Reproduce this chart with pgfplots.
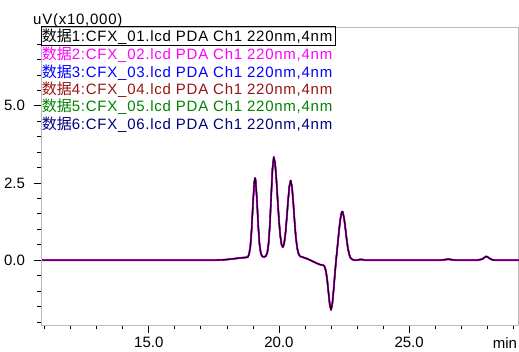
\documentclass[border=0pt]{standalone}
\usepackage{fontspec}
\setmainfont{Liberation Sans}
\newfontfamily\cjk{Noto Sans CJK SC}
\newfontfamily\lgfont[LetterSpace=5]{Liberation Sans}
\usepackage{pgfplots}
\pgfplotsset{compat=1.18}
\usepackage{pgfplotstable}
\definecolor{axgray}{RGB}{185,185,185}
\definecolor{s2}{RGB}{255,0,255}
\definecolor{s3}{RGB}{0,0,255}
\definecolor{s4}{RGB}{150,20,20}
\definecolor{s5}{RGB}{0,130,0}
\definecolor{s6}{RGB}{0,0,128}
\pgfplotstableread{
x y
10.9 0
12 0
14 0
16 0
17 0
17.5 0.0
17.8 0.01
18.0 0.02
18.2 0.04
18.4 0.06
18.6 0.08
18.75 0.09
18.80 0.10
18.85 0.19
18.90 0.44
18.95 1.01
19.00 1.82
19.05 2.52
19.08 2.66
19.10 2.60
19.15 1.99
19.20 1.15
19.25 0.53
19.30 0.23
19.35 0.13
19.40 0.105
19.45 0.11
19.50 0.14
19.55 0.24
19.60 0.54
19.65 1.15
19.70 2.07
19.75 2.96
19.80 3.34
19.85 3.14
19.90 2.61
19.95 1.93
20.00 1.28
20.05 0.78
20.10 0.50
20.15 0.42
20.20 0.55
20.25 0.88
20.30 1.38
20.35 1.94
20.40 2.40
20.45 2.58
20.50 2.37
20.55 1.85
20.60 1.24
20.65 0.72
20.70 0.385
20.75 0.21
20.80 0.135
20.85 0.11
20.90 0.10
21.00 0.07
21.10 0.04
21.20 0.0
21.30 -0.04
21.40 -0.08
21.50 -0.12
21.60 -0.15
21.70 -0.16
21.75 -0.21
21.80 -0.34
21.85 -0.62
21.90 -1.04
21.95 -1.44
22.00 -1.61
22.05 -1.40
22.10 -0.94
22.15 -0.42
22.20 0.06
22.25 0.48
22.30 0.91
22.35 1.29
22.40 1.53
22.43 1.575
22.45 1.56
22.50 1.36
22.55 1.03
22.60 0.67
22.65 0.37
22.70 0.18
22.75 0.07
22.80 0.03
22.90 0.0
23.0 0.0
23.1 0.02
23.2 0.02
23.3 0.0
24 0
25 0
26.2 0
26.4 0.02
26.5 0.03
26.6 0.02
26.8 0
27.6 0
27.8 0.03
27.9 0.09
27.95 0.12
28.0 0.11
28.1 0.05
28.2 0.01
28.3 0
29.2 0
}\trace
\newcommand\shuju{{\cjk 数据}}
\begin{document}
\begin{tikzpicture}
\path[use as bounding box] (-41.7pt,-27pt) rectangle (477.3pt,325pt);
\begin{axis}[
  at={(0,0)}, anchor=south west, scale only axis,
  width=476.8pt, height=297.3pt,
  xmin=10.885, xmax=29.2, ymin=-2.1, ymax=7.53,
  axis line style={axgray, line width=0.8pt},
  xtick={15,20,25}, minor xtick={11,12,...,29},
  ytick={0,2.5,5}, minor ytick={-2,-1.5,-1,-0.5,0.5,1,1.5,2,3,3.5,4,4.5,5.5,6,6.5,7},
  tick align=outside, xtick pos=lower, ytick pos=left,
  major tick length=8pt, minor tick length=4.5pt,
  every tick/.style={black, line width=0.8pt},
  tick label style={font=\fontsize{15}{18}\selectfont, inner sep=0pt},
  xticklabel style={anchor=base, yshift=-15pt},
  yticklabel style={anchor=east, xshift=-8.5pt},
  /pgf/number format/fixed, /pgf/number format/fixed zerofill,
  /pgf/number format/precision=1, /pgf/number format/assume math mode=true,
  clip=true,
]
\addplot[s6, line width=1.2pt, no marks, line join=round] table[x=x,y=y]{\trace};
\addplot[s5, line width=1.2pt, no marks, line join=round] table[x=x,y=y]{\trace};
\addplot[s4, line width=1.2pt, no marks, line join=round] table[x=x,y=y]{\trace};
\addplot[s3, line width=1.2pt, no marks, line join=round] table[x=x,y=y]{\trace};
\addplot[s2, line width=1.9pt, no marks, line join=round] table[x=x,y=y]{\trace};
\addplot[black, line width=1.1pt, no marks, line join=round] table[x=x,y=y]{\trace};
\end{axis}
\begin{scope}[every node/.style={anchor=base west, inner sep=0pt, font=\fontsize{15}{18}\lgfont}]
\node at (0pt,283.5pt) {\shuju 1:CFX\_01.lcd PDA Ch1 220nm,4nm};
\node[text=s2] at (0pt,265.3pt) {\shuju 2:CFX\_02.lcd PDA Ch1 220nm,4nm};
\node[text=s3] at (0pt,247.9pt) {\shuju 3:CFX\_03.lcd PDA Ch1 220nm,4nm};
\node[text=s4] at (0pt,230.5pt) {\shuju 4:CFX\_04.lcd PDA Ch1 220nm,4nm};
\node[text=s5] at (0pt,213.1pt) {\shuju 5:CFX\_05.lcd PDA Ch1 220nm,4nm};
\node[text=s6] at (0pt,195.7pt) {\shuju 6:CFX\_06.lcd PDA Ch1 220nm,4nm};
\node at (-8.7pt,300pt) {uV(x10,000)};
\node[font=\fontsize{15}{18}\selectfont] at (451pt,-23.5pt) {min};
\end{scope}
\draw[black, line width=0.8pt] (-0.7pt,279.6pt) rectangle (293.3pt,298.3pt);
\end{tikzpicture}
\end{document}
